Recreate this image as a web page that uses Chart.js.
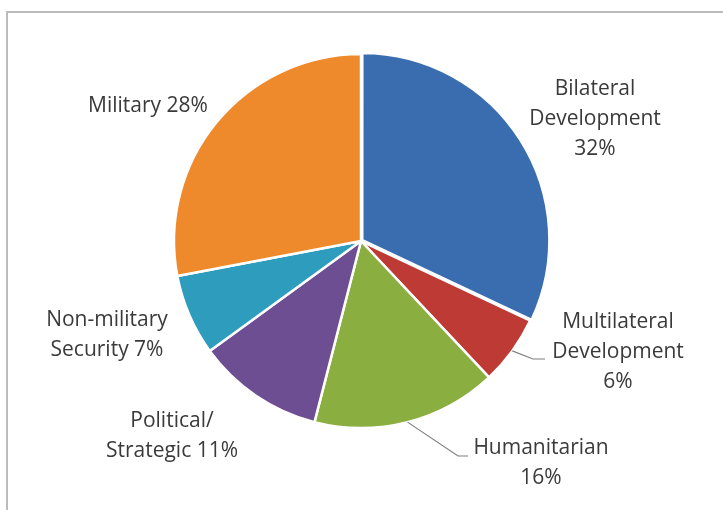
<!DOCTYPE html>
<html>
<head>
<meta charset="utf-8">
<script src="https://cdn.jsdelivr.net/npm/chart.js@4.4.1/dist/chart.umd.min.js"></script>
<style>
  html, body { margin: 0; padding: 0; background: #fff; }
  #wrap { position: relative; width: 723px; height: 510px; overflow: hidden; }
  #frame { position: absolute; left: 6px; top: 11px; width: 800px; height: 600px;
           border-left: 2px solid #bcbcbc; border-top: 2px solid #bcbcbc; }
  canvas { position: absolute; left: 0; top: 0; }
</style>
</head>
<body>
<div id="wrap">
  <div id="frame"></div>
  <canvas id="c" width="723" height="510"></canvas>
</div>
<script>
// Shares of the aid budget by category (percent)
const categories = ["Bilateral Development", "Multilateral Development", "Humanitarian",
                    "Political/ Strategic", "Non-military Security", "Military"];
const shares = [32, 6, 16, 11, 7, 28];
const colors = ["#3a6daf", "#bd3a35", "#8aae3f", "#6d4e93", "#2e9dbd", "#ee8a2c"];

// Label text broken into lines; the value is appended from `shares`
const labelLines = [
  ["Bilateral", "Development", "{v}"],
  ["Multilateral", "Development", "{v}"],
  ["Humanitarian", "{v}"],
  ["Political/", "Strategic {v}"],
  ["Non-military", "Security {v}"],
  ["Military {v}"]
];
// Label centre relative to the pie centre, and whether a leader line is drawn
const labelPlace = [
  { dx: 234, dy: -122, leader: false },
  { dx: 257, dy: 111, leader: true, elbow: [172, 118], end: [184, 118] },
  { dx: 180, dy: 222, leader: true, elbow: [97, 215], end: [107, 215] },
  { dx: -189, dy: 195, leader: false },
  { dx: -254, dy: 94, leader: false },
  { dx: -213, dy: -135, leader: false }
];

const FONT = "21px 'Open Sans', Lato, sans-serif";
const LINE_H = 30;

const pieLabels = {
  id: 'pieLabels',
  afterDatasetsDraw(chart) {
    const ctx = chart.ctx;
    const meta = chart.getDatasetMeta(0);
    ctx.save();
    ctx.font = FONT;
    ctx.fillStyle = '#3a3a3a';
    ctx.textAlign = 'center';
    ctx.textBaseline = 'middle';
    meta.data.forEach((arc, i) => {
      const p = arc.getProps(['x', 'y', 'startAngle', 'endAngle', 'outerRadius']);
      const cx = p.x, cy = p.y;
      const place = labelPlace[i];
      if (place.leader) {
        const mid = (p.startAngle + p.endAngle) / 2;
        const sx = cx + Math.cos(mid) * p.outerRadius;
        const sy = cy + Math.sin(mid) * p.outerRadius;
        ctx.strokeStyle = '#7f7f7f';
        ctx.lineWidth = 1.2;
        ctx.beginPath();
        ctx.moveTo(sx, sy);
        ctx.lineTo(cx + place.elbow[0], cy + place.elbow[1]);
        ctx.lineTo(cx + place.end[0], cy + place.end[1]);
        ctx.stroke();
      }
      const lines = labelLines[i].map(t => t.replace('{v}', shares[i] + '%'));
      const lx = cx + place.dx, ly = cy + place.dy;
      const top = ly - (lines.length - 1) * LINE_H / 2;
      lines.forEach((t, k) => ctx.fillText(t, lx, top + k * LINE_H));
    });
    ctx.restore();
  }
};

new Chart(document.getElementById('c'), {
  type: 'pie',
  data: {
    labels: categories,
    datasets: [{
      data: shares,
      backgroundColor: colors,
      borderColor: '#ffffff',
      borderWidth: 2.5,
      offset: [6, 0, 0, 0, 0, 0]
    }]
  },
  options: {
    responsive: false,
    animation: false,
    radius: 187,
    layout: { padding: { left: 0, right: 1, top: 0, bottom: 28 } },
    plugins: {
      legend: { display: false },
      tooltip: { enabled: false }
    }
  },
  plugins: [pieLabels]
});
</script>
</body>
</html>
